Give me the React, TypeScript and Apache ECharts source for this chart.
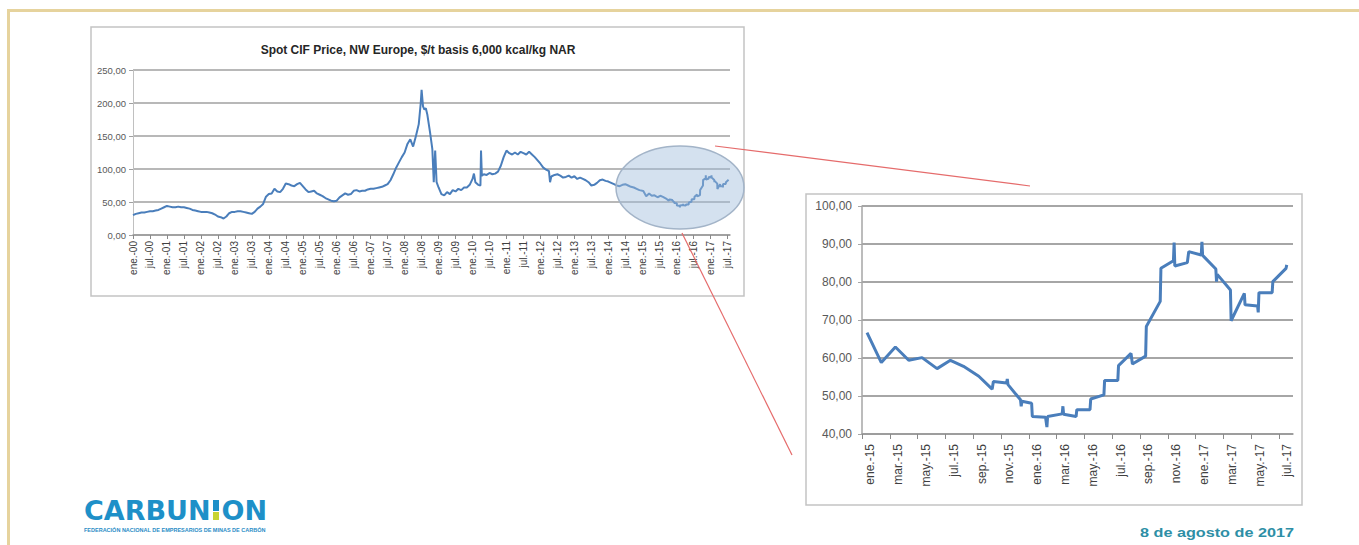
import React, { useEffect, useRef } from 'react';
import * as echarts from 'echarts';

// ---------- Data ----------
const mainTitle = 'Spot CIF Price, NW Europe, $/t basis 6,000 kcal/kg NAR';

// Main chart: x in months since ene.-00 (2000-2014 part)
const mainHistMonths = [
  0, 1, 2, 3, 4, 5, 6, 7, 8, 9, 10, 11,
  12, 13, 14, 15, 16, 17, 18, 19, 20, 21, 22, 23,
  24, 25, 26, 27, 28, 29, 30, 31, 32, 33, 34, 35,
  36, 37, 38, 39, 40, 41, 42, 43, 44, 45, 46, 47,
  48, 49, 50, 51, 52, 53, 54, 55, 56, 57, 58, 59,
  60, 61, 62, 63, 64, 65, 66, 67, 68, 69, 70, 71,
  72, 73, 74, 75, 76, 77, 78, 79, 80, 81, 82, 83,
  84, 85, 86, 87, 88, 89, 90, 91, 92, 93, 94, 95,
  96, 97, 98, 99, 100, 101, 101.7, 102, 102.5, 103, 103.5, 104, 105, 105.8, 106.3, 106.8, 107.3,
  108, 109, 110, 111, 112, 113, 114, 115, 116, 117, 118, 119,
  120, 120.5, 121, 122, 122.8, 123, 123.3, 124, 125, 126, 127, 128, 129, 130, 131,
  132, 133, 134, 135, 136, 137, 138, 139, 140, 141, 142, 143,
  144, 145, 146, 147, 147.4, 147.8, 148, 149, 150, 151, 152, 153, 154, 155,
  156, 157, 158, 159, 160, 161, 162, 163, 164, 165, 166, 167,
  168, 169, 170, 171, 172, 173, 174, 175, 176, 177, 178, 179,
];
const mainHistValues = [
  30, 32, 33, 34, 34, 35, 36, 36, 37, 38, 40, 42,
  44, 43, 42, 42, 43, 42, 42, 41, 40, 38, 37, 36,
  35, 35, 35, 34, 33, 31, 28, 27, 25, 28, 33, 35,
  35, 36, 36, 35, 34, 33, 32, 35, 40, 43, 47, 58,
  62, 63, 70, 66, 65, 70, 78, 77, 75, 74, 77, 79,
  74, 69, 65, 66, 67, 63, 61, 59, 56, 54, 52, 51,
  52, 57, 60, 63, 61, 62, 67, 68, 66, 67, 67, 69,
  70, 70, 71, 72, 73, 75, 77, 83, 92, 102, 110, 118,
  125, 138, 145, 134, 150, 168, 200, 220, 195, 190, 192, 183, 155, 130, 80, 128, 80,
  72, 62, 60, 65, 62, 68, 66, 70, 68, 72, 72, 76,
  85, 93, 80, 76, 75, 128, 90, 92, 91, 94, 92, 93, 96, 105, 118,
  128, 124, 122, 125, 122, 126, 124, 122, 126, 122, 118, 113,
  108, 102, 99, 97, 80, 88, 89, 91, 92, 90, 87, 88, 90, 87,
  89, 85, 87, 85, 83, 80, 75, 76, 79, 83, 84, 82,
  81, 79, 77, 75, 74, 76, 77, 75, 73, 72, 70, 68,
];
const recentOffsetMonths = 180; // ene.-15 in main-chart months

// Inset (and main tail): x in months since ene.-15
const insetMonths = [
  0.36, 1.39, 2.4, 3.36, 4.32, 5.4, 6.36, 7.3, 8.4, 9.36, 9.45,
  10.4, 10.45, 10.5, 11.4, 11.45, 11.5, 12.2, 12.25, 13.2, 13.3, 13.35,
  14.4, 14.45, 14.5, 15.4, 15.45, 16.4, 16.45, 17.4, 17.45, 18.4, 18.45,
  19.35, 19.45, 20.4, 20.45, 21.45, 21.5, 22.4, 22.45, 22.5, 23.4, 23.5,
  24.4, 24.45, 24.5, 25.45, 25.5, 25.55, 26.5, 26.55, 27.5, 27.55,
  28.45, 28.5, 28.55, 29.5, 29.55, 30.5, 30.55,
];
const insetValues = [
  66.7, 58.8, 62.9, 59.4, 60.1, 57.2, 59.4, 57.8, 55.2, 51.8, 53.8,
  53.4, 54.5, 53.0, 49.0, 47.3, 48.6, 48.1, 44.6, 44.4, 41.8, 44.6,
  45.3, 47.3, 45.2, 44.6, 46.4, 46.4, 49.2, 50.3, 54.1, 54.1, 58.0,
  61.2, 58.4, 60.5, 68.3, 74.9, 83.6, 85.6, 90.4, 84.2, 85.1, 88.0,
  87.1, 90.6, 87.0, 83.4, 80.1, 82.0, 77.9, 69.8, 77.0, 74.0,
  73.7, 72.0, 77.2, 77.2, 80.1, 83.6, 84.5,
];

const mainXTicks = [
  0, 6, 12, 18, 24, 30, 36, 42, 48, 54, 60, 66, 72, 78, 84, 90, 96, 102,
  108, 114, 120, 126, 132, 138, 144, 150, 156, 162, 168, 174, 180, 186, 192, 198, 204, 210,
];
const mainXLabels = [
  'ene.-00', 'jul.-00', 'ene.-01', 'jul.-01', 'ene.-02', 'jul.-02', 'ene.-03', 'jul.-03',
  'ene.-04', 'jul.-04', 'ene.-05', 'jul.-05', 'ene.-06', 'jul.-06', 'ene.-07', 'jul.-07',
  'ene.-08', 'jul.-08', 'ene.-09', 'jul.-09', 'ene.-10', 'jul.-10', 'ene.-11', 'jul.-11',
  'ene.-12', 'jul.-12', 'ene.-13', 'jul.-13', 'ene.-14', 'jul.-14', 'ene.-15', 'jul.-15',
  'ene.-16', 'jul.-16', 'ene.-17', 'jul.-17',
];
const insetXTicks = [0, 2, 4, 6, 8, 10, 12, 14, 16, 18, 20, 22, 24, 26, 28, 30];
const insetXLabels = [
  'ene.-15', 'mar.-15', 'may.-15', 'jul.-15', 'sep.-15', 'nov.-15',
  'ene.-16', 'mar.-16', 'may.-16', 'jul.-16', 'sep.-16', 'nov.-16',
  'ene.-17', 'mar.-17', 'may.-17', 'jul.-17',
];
const insetLabelShift = 0.6;

const dateText = '8 de agosto de 2017';
const logoSubtitle = 'FEDERACIÓN NACIONAL DE EMPRESARIOS DE MINAS DE CARBÓN';

// ---------- Helpers ----------
const fmtNum = (v: number) => v.toFixed(2).replace('.', ',');
const labelFor = (ticks: number[], labels: string[], v: number, shift = 0) => {
  for (let i = 0; i < ticks.length; i++) {
    if (Math.abs(ticks[i] + shift - v) < 0.01) return labels[i];
  }
  return '';
};

const FONT = '"Liberation Sans", Arial, sans-serif';
const LINE_BLUE = '#4a7ebb';

export default function App() {
  const ref = useRef<HTMLDivElement>(null);

  useEffect(() => {
    document.body.style.margin = '0';
    if (!ref.current) return;
    const chart = echarts.init(ref.current, undefined, { renderer: 'svg' });

    const mainData: number[][] = mainHistMonths.map((m, i) => [m, mainHistValues[i]]);
    insetMonths.forEach((m, i) => mainData.push([m + recentOffsetMonths, insetValues[i]]));
    const insetData = insetMonths.map((m, i) => [m, insetValues[i]]);

    const option: any = {
      animation: false,
      backgroundColor: '#ffffff',
      grid: [
        { left: 133, top: 70, width: 597, height: 165 },
        { left: 862, top: 206, width: 431, height: 228 },
      ],
      xAxis: [
        {
          type: 'value', gridIndex: 0, min: 0, max: 211,
          splitLine: { show: false },
          axisLine: { show: true, lineStyle: { color: '#9a9a9a', width: 1.5 } },
          axisTick: { show: true, customValues: mainXTicks, length: 4, lineStyle: { color: '#8a8a8a' } },
          axisLabel: {
            customValues: mainXTicks, rotate: 90, margin: 6,
            fontSize: 10, fontFamily: FONT, color: '#404040',
            formatter: (v: number) => labelFor(mainXTicks, mainXLabels, v),
          },
        },
        {
          type: 'value', gridIndex: 1, min: 0, max: 31,
          splitLine: { show: false },
          axisLine: { show: true, lineStyle: { color: '#9a9a9a', width: 1.5 } },
          axisTick: { show: true, customValues: insetXTicks, length: 5, lineStyle: { color: '#8a8a8a' } },
          axisLabel: {
            customValues: insetXTicks.map((t) => t + insetLabelShift), rotate: 90, margin: 10,
            fontSize: 12, fontFamily: FONT, color: '#404040',
            formatter: (v: number) => labelFor(insetXTicks, insetXLabels, v, insetLabelShift),
          },
        },
      ],
      yAxis: [
        {
          type: 'value', gridIndex: 0, min: 0, max: 250, interval: 50,
          splitLine: { show: true, lineStyle: { color: '#a0a0a0', width: 1.5 } },
          axisLine: { show: true, lineStyle: { color: '#c0c0c0', width: 1 } },
          axisTick: { show: true, length: 4, lineStyle: { color: '#a0a0a0' } },
          axisLabel: { margin: 7, fontSize: 9.5, fontFamily: FONT, color: '#595959', formatter: fmtNum },
        },
        {
          type: 'value', gridIndex: 1, min: 40, max: 100, interval: 10,
          splitLine: { show: true, lineStyle: { color: '#a6a6a6', width: 2 } },
          axisLine: { show: true, lineStyle: { color: '#a6a6a6', width: 1.5 } },
          axisTick: { show: true, length: 4, lineStyle: { color: '#a6a6a6' } },
          axisLabel: { margin: 10, fontSize: 12, fontFamily: FONT, color: '#595959', formatter: fmtNum },
        },
      ],
      series: [
        {
          type: 'line', xAxisIndex: 0, yAxisIndex: 0, data: mainData,
          symbol: 'none', lineStyle: { color: LINE_BLUE, width: 2 }, z: 3,
        },
        {
          type: 'line', xAxisIndex: 1, yAxisIndex: 1, data: insetData,
          symbol: 'none', lineStyle: { color: LINE_BLUE, width: 3 }, z: 3,
        },
      ],
      graphic: [
        // slide frame
        { type: 'rect', shape: { x: 7, y: 9, width: 1352, height: 3 }, style: { fill: '#e6d39d' } },
        { type: 'rect', shape: { x: 7, y: 9, width: 3, height: 536 }, style: { fill: '#e6d39d' } },
        // chart boxes
        { type: 'rect', shape: { x: 91, y: 27, width: 653, height: 269 }, style: { fill: 'none', stroke: '#c3c3c3', lineWidth: 1.5 } },
        { type: 'rect', shape: { x: 806, y: 194, width: 496, height: 311 }, style: { fill: 'none', stroke: '#c3c3c3', lineWidth: 1.5 } },
        // title
        {
          type: 'text', x: 418, y: 50,
          style: { text: mainTitle, fill: '#262626', font: `bold 12px ${FONT}`, align: 'center', verticalAlign: 'middle' },
        },
        // highlight ellipse
        {
          type: 'ellipse', z: 50,
          shape: { cx: 680, cy: 187.5, rx: 64, ry: 41.5 },
          style: { fill: 'rgba(160,188,220,0.45)', stroke: '#a3b4c8', lineWidth: 1.5 },
        },
        // connector lines
        { type: 'line', z: 60, shape: { x1: 715, y1: 146, x2: 1030, y2: 186 }, style: { stroke: '#e56b6b', lineWidth: 1.2 } },
        { type: 'line', z: 60, shape: { x1: 682, y1: 233, x2: 792, y2: 455 }, style: { stroke: '#e56b6b', lineWidth: 1.2 } },
        // logo
        {
          type: 'text', x: 84, y: 510,
          style: { text: 'CARBUN', fill: '#1e90c8', font: 'bold 27px "DejaVu Sans", sans-serif', align: 'left', verticalAlign: 'middle' },
        },
        { type: 'rect', shape: { x: 213, y: 500, width: 6, height: 11 }, style: { fill: '#1e90c8' } },
        { type: 'rect', shape: { x: 213, y: 512, width: 6, height: 8 }, style: { fill: '#c8d433' } },
        {
          type: 'text', x: 267, y: 510,
          style: { text: 'ON', fill: '#1e90c8', font: 'bold 27px "DejaVu Sans", sans-serif', align: 'right', verticalAlign: 'middle' },
        },
        {
          type: 'text', x: 84, y: 530,
          style: { text: logoSubtitle, fill: '#2a8cc6', font: `bold 5.5px ${FONT}`, align: 'left', verticalAlign: 'middle' },
        },
        // date
        {
          type: 'text', x: 1140, y: 532, scaleX: 1.2,
          style: { text: dateText, fill: '#2e8fa6', font: `bold 13.5px ${FONT}`, align: 'left', verticalAlign: 'middle' },
        },
      ],
    };

    chart.setOption(option);
    return () => chart.dispose();
  }, []);

  return <div ref={ref} style={{ width: 1359, height: 545 }} />;
}
